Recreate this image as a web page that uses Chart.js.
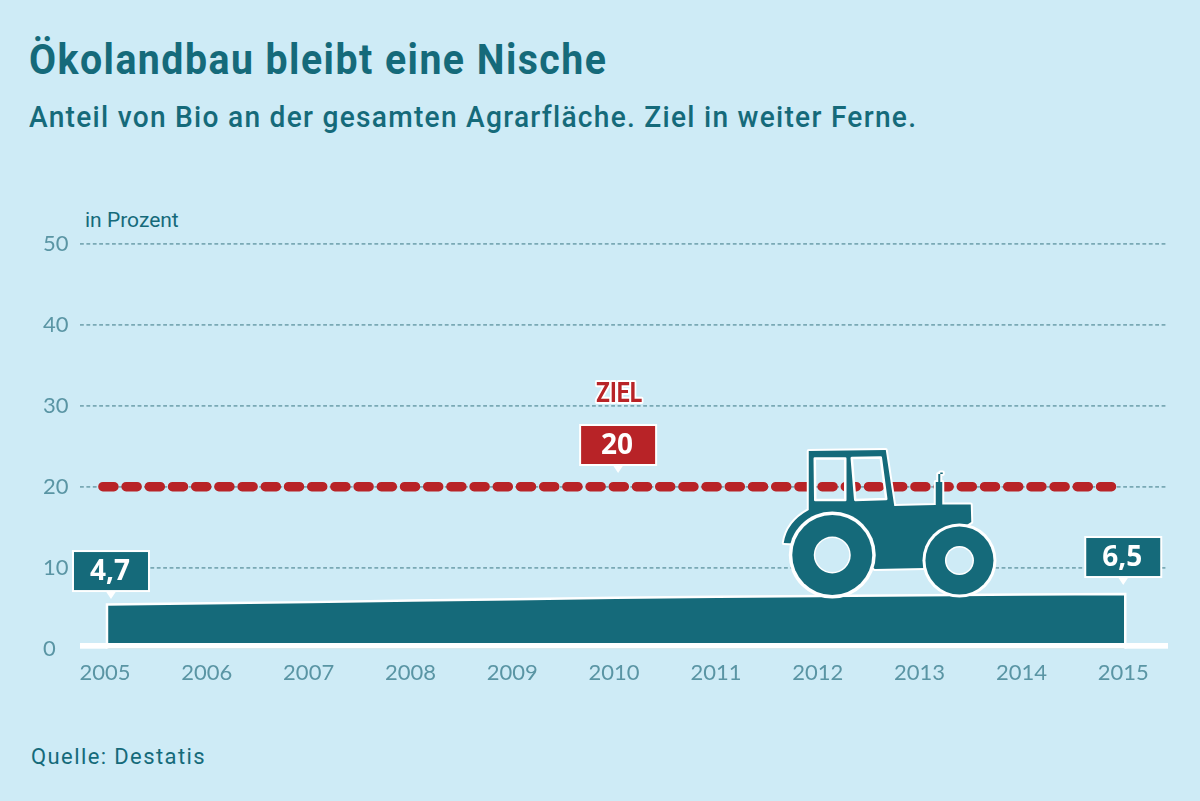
<!DOCTYPE html>
<html lang="de">
<head>
<meta charset="utf-8">
<title>Ökolandbau bleibt eine Nische</title>
<script src="https://cdn.jsdelivr.net/npm/chart.js@4"></script>
<style>
html,body{margin:0;padding:0;width:1200px;height:801px;overflow:hidden;background:#ceebf6;}
#wrap{position:relative;width:1200px;height:801px;}
canvas{position:absolute;left:0;top:0;}
.t{position:absolute;white-space:nowrap;color:#156a7a;font-family:Roboto,sans-serif;transform-origin:left center;}
#title{left:29px;top:36px;font-size:42px;font-weight:700;letter-spacing:1.55px;line-height:48px;transform:scaleX(.935);}
#sub{left:29px;top:100px;font-size:29px;font-weight:500;letter-spacing:1.3px;line-height:34px;transform:scaleX(.97);}
#unit{left:85px;top:207px;font-size:21px;font-weight:400;line-height:26px;}
#src{left:31px;top:743px;font-size:22px;font-weight:400;letter-spacing:1.4px;line-height:28px;}
</style>
</head>
<body>
<div id="wrap">
<div class="t" id="title">Ökolandbau bleibt eine Nische</div>
<div class="t" id="sub">Anteil von Bio an der gesamten Agrarfläche. Ziel in weiter Ferne.</div>
<div class="t" id="unit">in Prozent</div>
<div class="t" id="src">Quelle: Destatis</div>
<canvas id="c" width="1200" height="801"></canvas>
</div>
<script>
const years = [2005,2006,2007,2008,2009,2010,2011,2012,2013,2014,2015];
const share = [5.45,5.6,5.75,5.95,6.1,6.3,6.4,6.5,6.6,6.7,6.75];
const yTicks = [0,10,20,30,40,50];
const goalYears = [2004.96,2014.885];
const goalValues = [20,20];
const goalCallout = {year:2010, value:20, text:"20"};
const startCallout = {year:2005, value:5.45, text:"4,7"};
const endCallout = {year:2015, value:6.75, text:"6,5"};
const goalLabel = "ZIEL";

const TEAL="#156a7a", RED="#b82327", BG="#ceebf6";

const areaPoints = [{x:years[0],y:0}]
  .concat(years.map((v,i)=>({x:v,y:share[i]})))
  .concat([{x:years[years.length-1],y:0}]);
const goalPoints = goalYears.map((v,i)=>({x:v,y:goalValues[i]}));

function callout(ctx,tx,ty,fill,text){
  const w=74,h=38,tail=8,top=ty-tail-h-1;
  ctx.save();
  ctx.fillStyle="#fff";
  ctx.beginPath();ctx.moveTo(tx-6,top+h);ctx.lineTo(tx,ty);ctx.lineTo(tx+6,top+h);ctx.closePath();ctx.fill();
  ctx.lineWidth=4;ctx.strokeStyle="#fff";ctx.fillStyle=fill;
  ctx.strokeRect(tx-w/2,top,w,h);ctx.fillRect(tx-w/2,top,w,h);
  ctx.fillStyle="#fff";ctx.font="700 28px 'Open Sans',sans-serif";ctx.textAlign="center";ctx.textBaseline="middle";
  ctx.fillText(text,tx-1,top+h/2+1);
  ctx.restore();
}

function tractor(ctx,ox,oy){
  ctx.save();
  ctx.translate(ox,oy);
  const body=new Path2D();
  body.moveTo(-11,-195);body.lineTo(66,-196);body.lineTo(74.5,-140);
  body.lineTo(116,-141);body.lineTo(116,-164);body.lineTo(118.5,-164);body.lineTo(118.5,-172);
  body.lineTo(123,-172);body.lineTo(123,-173.5);body.lineTo(120.5,-173.5);body.lineTo(120.5,-164);
  body.lineTo(122.5,-164);body.lineTo(122.5,-141.5);
  body.lineTo(151,-141.5);body.lineTo(151.5,-124);body.lineTo(130,-110);body.lineTo(105,-78);
  body.lineTo(55,-77);body.lineTo(30,-100);
  body.lineTo(-36,-103);body.quadraticCurveTo(-33,-124,-11,-136);body.closePath();
  const win=new Path2D();
  win.moveTo(-5,-187.5);win.lineTo(25.5,-187.5);win.lineTo(25.5,-146);win.lineTo(-4.5,-146);win.closePath();
  win.moveTo(32,-188);win.lineTo(61,-188.5);win.lineTo(66.5,-147);win.lineTo(35.5,-146);win.closePath();
  ctx.lineJoin="round";
  ctx.strokeStyle="#fff";ctx.lineWidth=4;ctx.stroke(body);
  const full=new Path2D();full.addPath(body);full.addPath(win);
  ctx.fillStyle=TEAL;ctx.fill(full,"evenodd");
  ctx.lineWidth=2.5;ctx.stroke(win);
  [[12.5,-91,43.5,40,18.5],[139.7,-85.5,37,34,14.5]].forEach(w=>{
    ctx.fillStyle="#fff";ctx.beginPath();ctx.arc(w[0],w[1],w[2],0,Math.PI*2);ctx.fill();
    ctx.fillStyle=TEAL;ctx.beginPath();ctx.arc(w[0],w[1],w[3],0,Math.PI*2);ctx.fill();
    ctx.fillStyle="#fff";ctx.beginPath();ctx.arc(w[0],w[1],w[4],0,Math.PI*2);ctx.fill();
    ctx.fillStyle=BG;ctx.beginPath();ctx.arc(w[0],w[1],w[4]-1.5,0,Math.PI*2);ctx.fill();
  });
  ctx.restore();
}

const decorations={
  id:"decorations",
  afterDatasetsDraw(chart){
    const {ctx,chartArea,scales:{x,y}}=chart;
    const y0=y.getPixelForValue(0);
    ctx.save();
    ctx.fillStyle="#fff";
    ctx.fillRect(chartArea.left,y0-5.7,chartArea.right-chartArea.left,5.7);
    ctx.restore();
    tractor(ctx,x.getPixelForValue(2012),y0-2.7);
    callout(ctx,x.getPixelForValue(goalCallout.year)+2,y.getPixelForValue(goalCallout.value)-13.7,RED,goalCallout.text);
    callout(ctx,x.getPixelForValue(startCallout.year)+4,y.getPixelForValue(startCallout.value)-5.5,TEAL,startCallout.text);
    callout(ctx,x.getPixelForValue(endCallout.year)-2,y.getPixelForValue(endCallout.value)-9,TEAL,endCallout.text);
    ctx.save();
    ctx.font="700 27px Roboto,sans-serif";
    ctx.textAlign="center";ctx.textBaseline="middle";
    ctx.lineJoin="round";ctx.lineWidth=4;ctx.strokeStyle="#fff";ctx.fillStyle=RED;
    ctx.translate(x.getPixelForValue(goalCallout.year)+3,y.getPixelForValue(goalCallout.value)-91);
    ctx.scale(46/ctx.measureText(goalLabel).width,1);
    ctx.strokeText(goalLabel,0,0);ctx.fillText(goalLabel,0,0);
    ctx.restore();
  }
};

new Chart(document.getElementById("c"),{
  type:"line",
  data:{datasets:[
    {data:goalPoints,borderColor:RED,borderWidth:9.5,borderCapStyle:"round",borderDash:[11,12.2],pointRadius:0,fill:false,tension:0,order:1},
    {data:areaPoints,borderColor:"#fff",borderWidth:2.5,backgroundColor:TEAL,pointRadius:0,fill:"origin",tension:0,order:2}
  ]},
  options:{
    responsive:false,animation:false,devicePixelRatio:1,
    layout:{padding:{left:43,top:243.7,right:32,bottom:0}},
    plugins:{legend:{display:false},tooltip:{enabled:false},title:{display:false}},
    scales:{
      x:{type:"linear",min:2004.735,max:2015.42,
        afterBuildTicks(a){a.ticks=years.map(v=>({value:v}));},
        afterFit(a){a.height=152.3;},
        grid:{display:false,drawTicks:false},
        border:{display:false},
        ticks:{autoSkip:false,maxRotation:0,padding:11,labelOffset:-2,color:"#5a95a4",
          font:{family:"Lato, sans-serif",size:22,weight:"400"},callback:v=>String(v)}
      },
      y:{min:0,max:50,
        afterBuildTicks(a){a.ticks=yTicks.map(v=>({value:v}));},
        afterFit(a){a.width=37;},
        grid:{color:c=>c.tick.value===0?"rgba(0,0,0,0)":"#7aa9b5",lineWidth:1.8,drawTicks:false},
        border:{display:false,dash:[3.8,2.6]},
        ticks:{crossAlign:"far",padding:0,color:"#5a95a4",font:{family:"Lato, sans-serif",size:22,weight:"400"},callback:v=>String(v)}
      }
    }
  },
  plugins:[decorations]
});
</script>
</body>
</html>
